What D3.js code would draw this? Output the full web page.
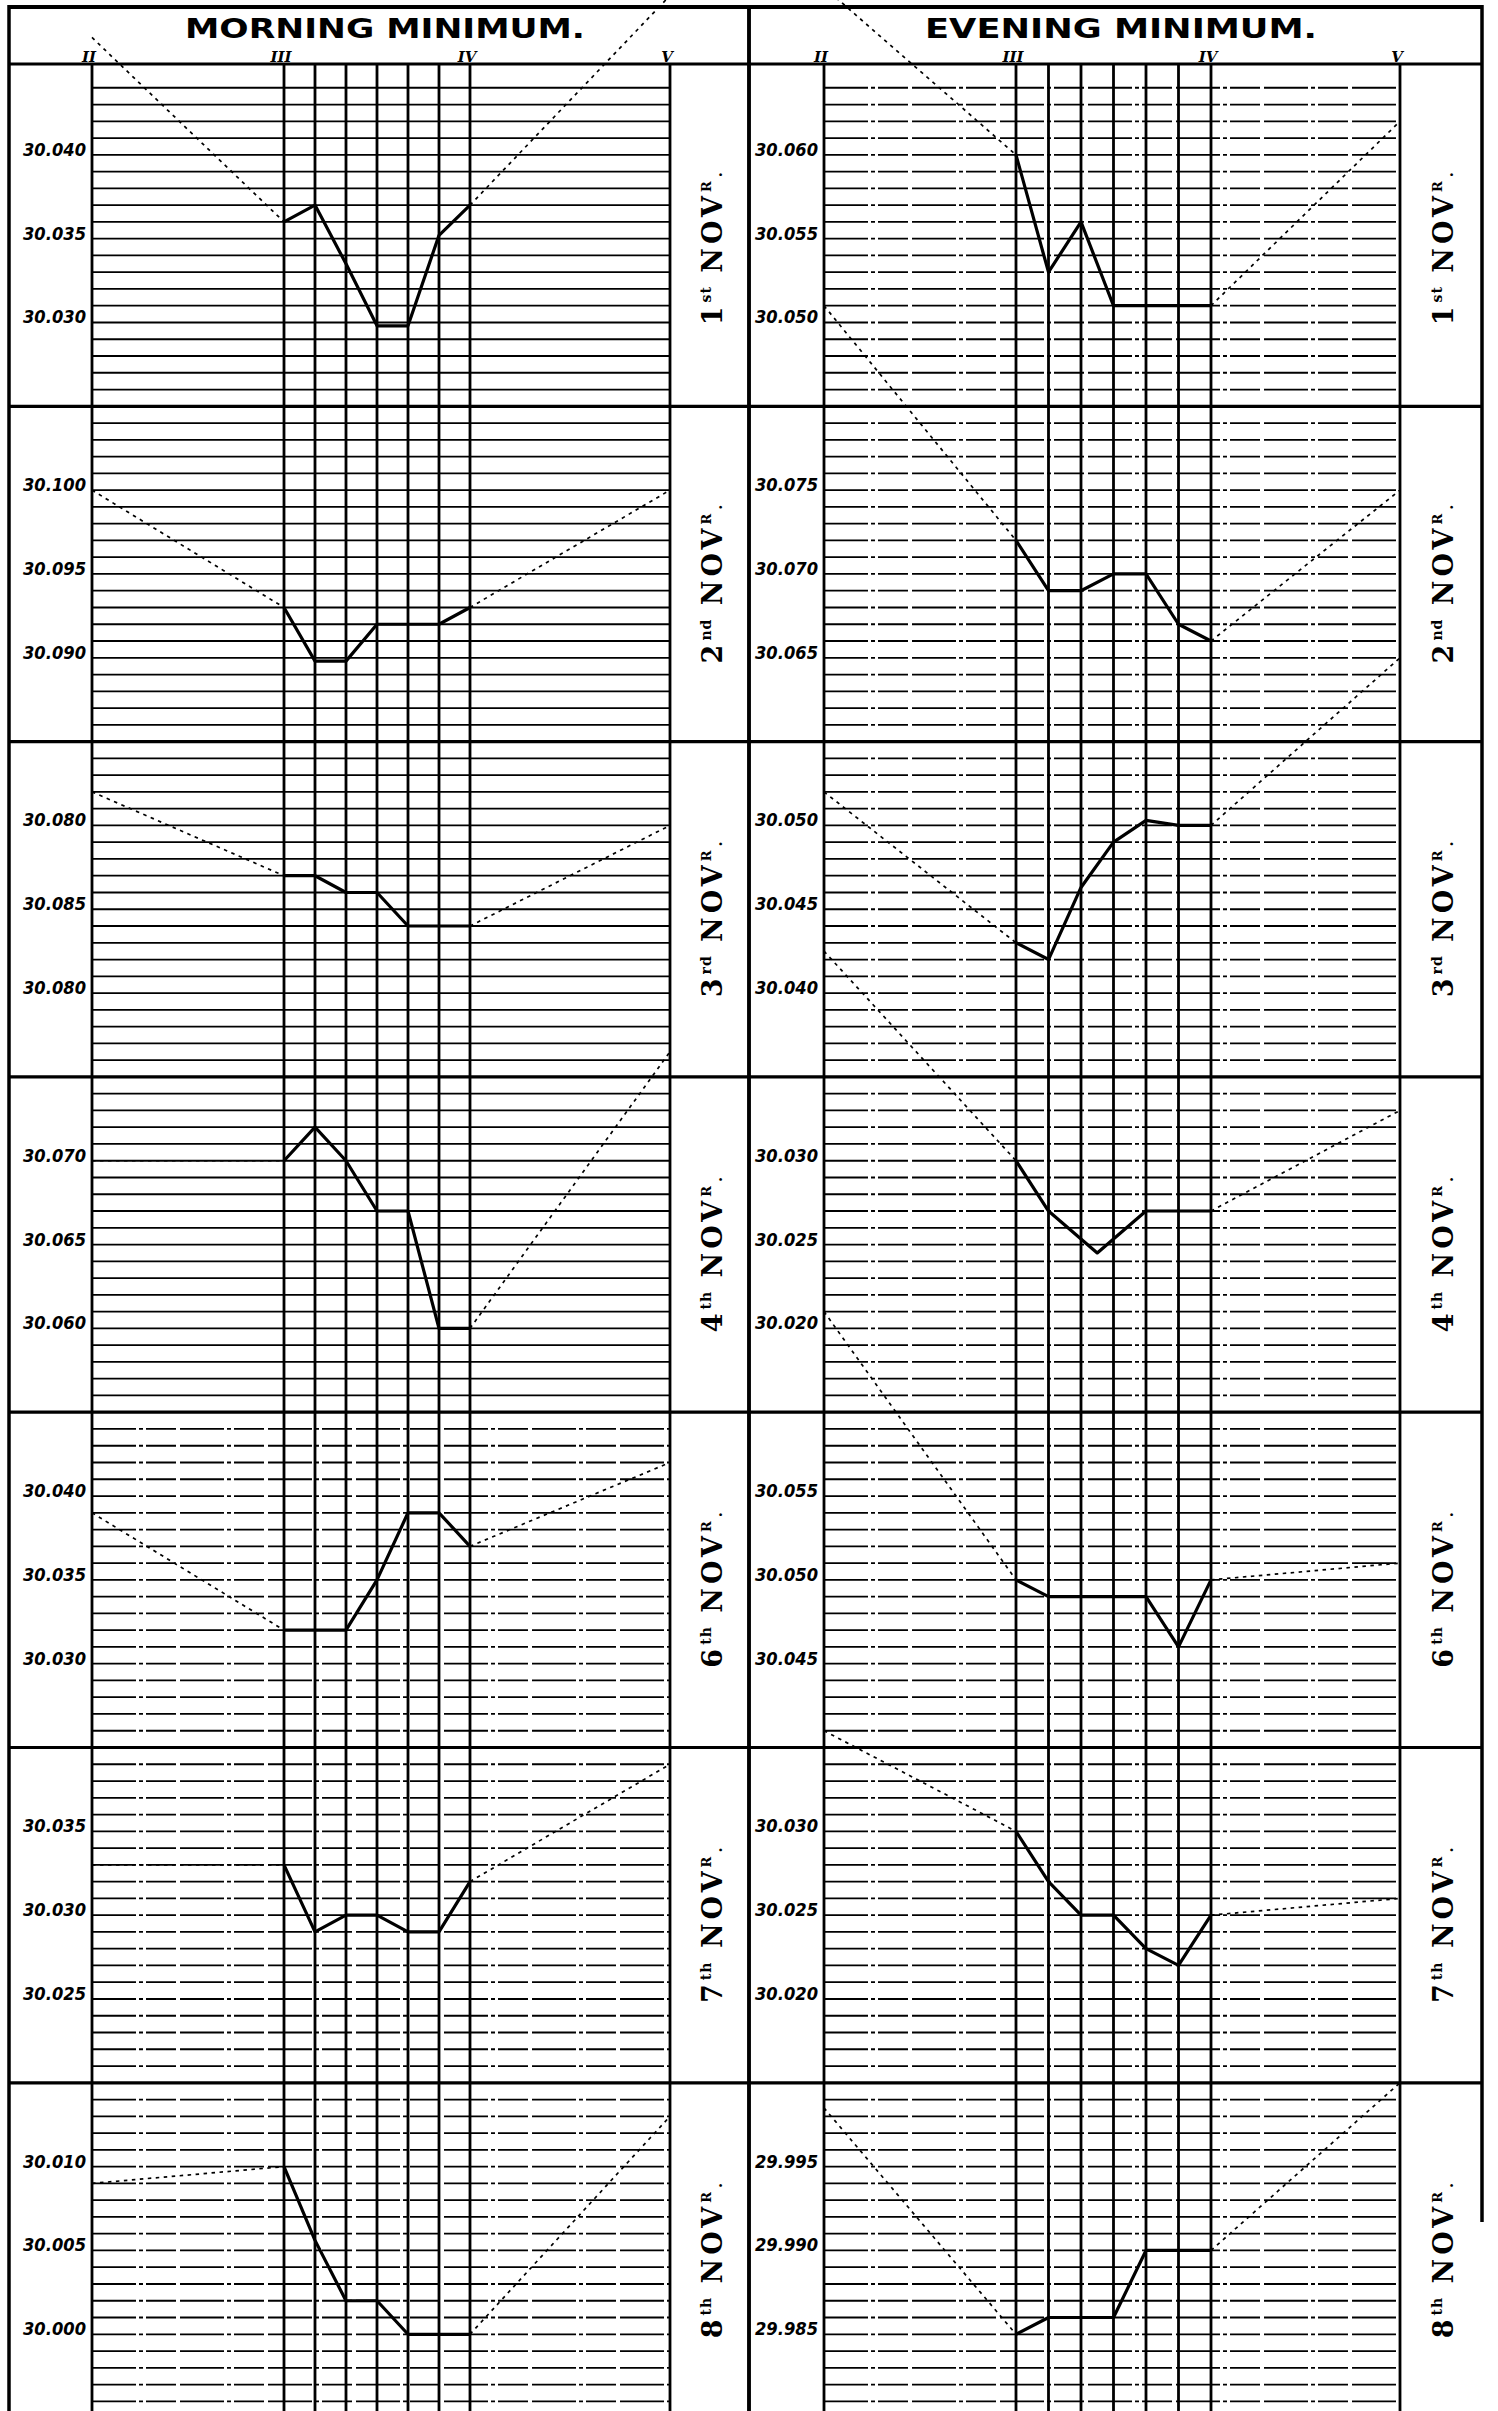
<!DOCTYPE html>
<html>
<head>
<meta charset="utf-8">
<script src="https://cdn.jsdelivr.net/npm/d3@7"></script>
<style>
  body { margin: 0; background: #fff; }
  svg { display: block; }
</style>
</head>
<body>
<svg id="chart" width="1498" height="2411"></svg>
<script>
// Day labels (5th Nov. is missing in the original)
const dayNumbers = ["1", "2", "3", "4", "6", "7", "8"];
const daySuffixes = ["st", "nd", "rd", "th", "th", "th", "th"];

// Hours along the top, and the 10 minute readings between III and IV
const hourTicks = [2, 3, 4, 5];
const hourLabels = ["II", "III", "IV", "V"];
const readingMinutes = [0, 10, 20, 30, 40, 50, 60];

// Morning minimum: top labelled value of each day's scale, labels as printed
const mornTopTick = [30.040, 30.100, 30.090, 30.070, 30.040, 30.035, 30.010];
const mornTickLabels = [
  ["30.040", "30.035", "30.030"],
  ["30.100", "30.095", "30.090"],
  ["30.080", "30.085", "30.080"],
  ["30.070", "30.065", "30.060"],
  ["30.040", "30.035", "30.030"],
  ["30.035", "30.030", "30.025"],
  ["30.010", "30.005", "30.000"]
];
const mornHourII = [30.047, 30.100, 30.092, 30.070, 30.039, 30.033, 30.009];
const mornReadings = [
  [30.036, 30.037, 30.0335, 30.0298, 30.0298, 30.0352, 30.037],
  [30.093, 30.0898, 30.0898, 30.092, 30.092, 30.092, 30.093],
  [30.087, 30.087, 30.086, 30.086, 30.084, 30.084, 30.084],
  [30.070, 30.072, 30.070, 30.067, 30.067, 30.060, 30.060],
  [30.032, 30.032, 30.032, 30.035, 30.039, 30.039, 30.037],
  [30.033, 30.029, 30.030, 30.030, 30.029, 30.029, 30.032],
  [30.010, 30.0056, 30.002, 30.002, 30.000, 30.000, 30.000]
];
const mornHourV = [30.0495, 30.100, 30.090, 30.0765, 30.042, 30.039, 30.013];

// Evening minimum
const eveTopTick = [30.060, 30.075, 30.050, 30.030, 30.055, 30.030, 29.995];
const eveTickLabels = [
  ["30.060", "30.055", "30.050"],
  ["30.075", "30.070", "30.065"],
  ["30.050", "30.045", "30.040"],
  ["30.030", "30.025", "30.020"],
  ["30.055", "30.050", "30.045"],
  ["30.030", "30.025", "30.020"],
  ["29.995", "29.990", "29.985"]
];
const eveHourII = [30.070, 30.086, 30.052, 30.0425, 30.066, 30.036, 29.9985];
const eveReadings = [
  [30.060, 30.053, 30.056, 30.051, 30.051, 30.051, 30.051],
  [30.072, 30.069, 30.069, 30.070, 30.070, 30.067, 30.066],
  [30.043, 30.042, 30.0463, 30.049, 30.0503, 30.050, 30.050],
  [30.030, 30.027, 30.0245, 30.027, 30.027, 30.027],
  [30.050, 30.049, 30.049, 30.049, 30.049, 30.046, 30.050],
  [30.030, 30.027, 30.025, 30.025, 30.023, 30.022, 30.025],
  [29.985, 29.986, 29.986, 29.986, 29.990, 29.990, 29.990]
];
// 4th Nov. evening has its low between two of the ten-minute lines
const eveMinutes4th = [0, 10, 25, 40, 50, 60];
const eveHourV = [30.062, 30.075, 30.060, 30.033, 30.051, 30.026, 30.000];

// ---- layout ----
const svg = d3.select("#chart");
const pageH = 2411;
const headTop = 7, headBottom = 64;
const rowH = 335.3, rowTop0 = 71;
const rowY = d3.scaleLinear().domain([0, 7]).range([rowTop0, rowTop0 + 7 * rowH]);

const columns = [
  {
    title: "MORNING MINIMUM.", titleX: 385, titleLen: 400,
    outerL: 9, outerR: 749, xRange: [92, 284, 470, 670],
    topTick: mornTopTick, tickLabels: mornTickLabels,
    hourII: mornHourII, readings: mornReadings, hourV: mornHourV,
    minutes: mornReadings.map(() => readingMinutes),
    dashFrom: 4
  },
  {
    title: "EVENING MINIMUM.", titleX: 1121, titleLen: 392,
    outerL: 749, outerR: 1482, xRange: [824, 1016, 1211, 1400],
    topTick: eveTopTick, tickLabels: eveTickLabels,
    hourII: eveHourII, readings: eveReadings, hourV: eveHourV,
    minutes: eveReadings.map((d, i) => i === 3 ? eveMinutes4th : readingMinutes),
    dashFrom: 0
  }
];

const gGrid = svg.append("g");
const gFrame = svg.append("g");
const gData = svg.append("g");
const gText = svg.append("g");

columns.forEach(col => {
  const x = d3.scaleLinear().domain(hourTicks).range(col.xRange);
  const plotL = x(2), plotR = x(5);

  // header
  gText.append("text")
    .attr("x", col.titleX)
    .attr("y", 38)
    .attr("text-anchor", "middle")
    .attr("textLength", col.titleLen)
    .attr("lengthAdjust", "spacingAndGlyphs")
    .style("font-family", "'DejaVu Sans', sans-serif")
    .style("font-weight", "bold")
    .style("font-size", "26px")
    .text(col.title);

  gText.selectAll(null)
    .data(hourTicks)
    .enter()
    .append("text")
    .attr("x", d => x(d) - 3)
    .attr("y", 62)
    .attr("text-anchor", "middle")
    .style("font-family", "'DejaVu Serif', serif")
    .style("font-weight", "bold")
    .style("font-style", "italic")
    .style("font-size", "15px")
    .text((d, i) => hourLabels[i]);

  // vertical rulings: hours and ten-minute lines
  const verticals = [2].concat(readingMinutes.map(m => 3 + m / 60), [5]);
  gFrame.selectAll(null)
    .data(verticals)
    .enter()
    .append("line")
    .attr("x1", d => x(d)).attr("x2", d => x(d))
    .attr("y1", headBottom).attr("y2", pageH)
    .attr("stroke", "#000")
    .attr("stroke-width", 2.8);

  // outer frame and header lines
  gFrame.append("line")
    .attr("x1", col.outerL).attr("x2", col.outerR)
    .attr("y1", headTop).attr("y2", headTop)
    .attr("stroke", "#000").attr("stroke-width", 4);
  gFrame.append("line")
    .attr("x1", col.outerL).attr("x2", col.outerR)
    .attr("y1", headBottom).attr("y2", headBottom)
    .attr("stroke", "#000").attr("stroke-width", 3.2);
  gFrame.append("line")
    .attr("x1", col.outerL).attr("x2", col.outerL)
    .attr("y1", headTop - 2).attr("y2", pageH)
    .attr("stroke", "#000").attr("stroke-width", 3.5);
  gFrame.append("line")
    .attr("x1", col.outerR).attr("x2", col.outerR)
    .attr("y1", headTop - 2).attr("y2", col.outerR > 1000 ? 2222 : pageH)
    .attr("stroke", "#000").attr("stroke-width", 3.5);

  dayNumbers.forEach((day, i) => {
    const T = col.topTick[i];
    const y = d3.scaleLinear()
      .domain([T + 0.005, T - 0.015])
      .range([rowY(i), rowY(i + 1)]);

    // day boundary
    if (i > 0) {
      gFrame.append("line")
        .attr("x1", col.outerL).attr("x2", col.outerR)
        .attr("y1", rowY(i)).attr("y2", rowY(i))
        .attr("stroke", "#000").attr("stroke-width", 3.2);
    }

    // horizontal rulings, one every 0.001 inch
    const rulings = d3.range(1, 20).map(k => T + 0.005 - k * 0.001);
    gGrid.selectAll(null)
      .data(rulings)
      .enter()
      .append("line")
      .attr("x1", plotL).attr("x2", plotR)
      .attr("y1", d => y(d)).attr("y2", d => y(d))
      .attr("stroke", "#000")
      .attr("stroke-width", 1.8)
      .attr("stroke-dasharray", i >= col.dashFrom ? "44,3,4,3,30,4" : null);

    // scale labels
    const tickVals = [T, T - 0.005, T - 0.010];
    gText.selectAll(null)
      .data(tickVals)
      .enter()
      .append("text")
      .attr("x", plotL - 6)
      .attr("y", d => y(d) + 1)
      .attr("text-anchor", "end")
      .attr("textLength", 63)
      .attr("lengthAdjust", "spacingAndGlyphs")
      .style("font-family", "'DejaVu Sans', sans-serif")
      .style("font-weight", "bold")
      .style("font-style", "italic")
      .style("font-size", "17px")
      .text((d, k) => col.tickLabels[i][k]);

    // readings between III and IV
    const pts = col.readings[i].map((v, k) => [3 + col.minutes[i][k] / 60, v]);
    const line = d3.line().x(d => x(d[0])).y(d => y(d[1]));

    gData.append("path")
      .attr("d", line(pts))
      .attr("fill", "none")
      .attr("stroke", "#000")
      .attr("stroke-width", 3.2)
      .attr("stroke-linejoin", "round");

    // dotted connections to the II and V hour readings
    const dotted = [
      [[2, col.hourII[i]], pts[0]],
      [pts[pts.length - 1], [5, col.hourV[i]]]
    ];
    gData.selectAll(null)
      .data(dotted)
      .enter()
      .append("path")
      .attr("d", line)
      .attr("fill", "none")
      .attr("stroke", "#000")
      .attr("stroke-width", 1.7)
      .attr("stroke-dasharray", "3.5,4.5");

    // rotated day label
    const cx = (plotR + col.outerR) / 2 + 3;
    const cy = (rowY(i) + rowY(i + 1)) / 2 + 8;
    const label = gText.append("text")
      .attr("transform", `translate(${cx},${cy}) rotate(-90)`)
      .attr("text-anchor", "middle")
      .attr("dy", "0.35em")
      .style("font-family", "'DejaVu Serif', serif")
      .style("font-weight", "bold")
      .style("font-size", "27px")
      .style("letter-spacing", "4px");
    label.append("tspan").text(day);
    label.append("tspan").attr("dy", -11).style("font-size", "14px").style("letter-spacing", "1px").text(daySuffixes[i]);
    label.append("tspan").attr("dy", 11).text("\u00a0NOV");
    label.append("tspan").attr("dy", -11).style("font-size", "13px").text("R");
    label.append("tspan").attr("dy", 11).style("font-size", "15px").text(".");
  });
});
</script>
</body>
</html>
